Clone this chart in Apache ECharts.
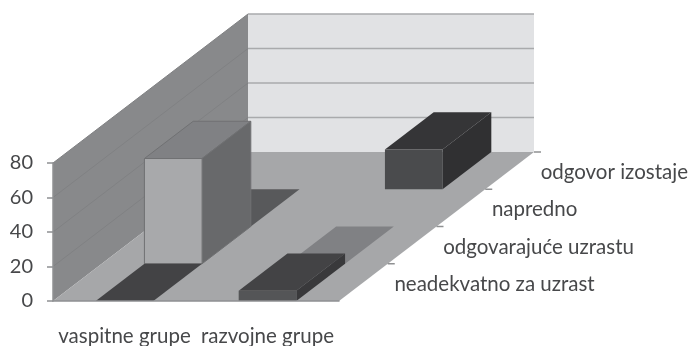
<!DOCTYPE html>
<html>
<head>
<meta charset="utf-8">
<style>
    html, body { margin: 0; padding: 0; background: #fff; }
    #chart { width: 689px; height: 346px; }
</style>
<script src="https://cdn.jsdelivr.net/npm/echarts@6/dist/echarts.min.js"></script>
</head>
<body>
<div id="chart"></div>
<script>
const categories = ['vaspitne grupe', 'razvojne grupe'];
const depthLabels = ['neadekvatno za uzrast', 'odgovarajuće uzrastu', 'napredno', 'odgovor izostaje'];
const neadekvatno = [0, 6];
const odgovarajuce = [61, 0];
const napredno = [0, null];
const izostaje = [null, 23];
const yTicks = [0, 20, 40, 60, 80];

const depthValues = [neadekvatno, odgovarajuce, napredno, izostaje];
const depthColors = [
    { front: '#545557', top: '#434345', side: '#39393b' },
    { front: '#a8a9ab', top: '#808184', side: '#68696b', edge: '#707173' },
    { front: '#58595b', top: '#58595b', side: '#4a4a4c' },
    { front: '#4a4b4d', top: '#353537', side: '#303032' },
];

// pixel shift for one step back along the depth axis
const stepX = 48.75;
const stepY = 37.25;
const barRatio = 0.403;
const textColor = '#47484a';
const fontFamily = 'Lato, "Open Sans", sans-serif';

function shift(point, depth) {
    return [point[0] + depth * stepX, point[1] - depth * stepY];
}

function polygon(points, fill, stroke) {
    return { type: 'polygon', shape: { points: points }, style: { fill: fill, stroke: stroke || null, lineWidth: 1 } };
}

function line(a, b, color, width) {
    return {
        type: 'line',
        shape: { x1: a[0], y1: a[1], x2: b[0], y2: b[1] },
        style: { stroke: color, lineWidth: width },
    };
}

function renderWalls(params, api) {
    const n = categories.length;
    const band = api.size([1, 0])[0];
    const o = [api.coord([0, 0])[0] - band / 2, api.coord([0, 0])[1]];
    const top = [o[0], api.coord([0, yTicks[yTicks.length - 1]])[1]];
    const right = [o[0] + band * n, o[1]];
    const d = depthLabels.length;
    return {
        type: 'group',
        children: [
            polygon([shift(top, d), shift([right[0], top[1]], d), shift(right, d), shift(o, d)], '#e1e2e4'),
            polygon([o, top, shift(top, d), shift(o, d)], '#88898b'),
            polygon([o, right, shift(right, d), shift(o, d)], '#a6a7a9'),
        ],
    };
}

function renderGridLine(params, api) {
    const v = api.value(0);
    const band = api.size([1, 0])[0];
    const left = [api.coord([0, v])[0] - band / 2, api.coord([0, v])[1]];
    const right = [left[0] + band * categories.length, left[1]];
    const d = depthLabels.length;
    return {
        type: 'group',
        children: [
            line(left, shift(left, d), '#808183', 1),
            line(shift(left, d), shift(right, d), '#a9aaac', 1.5),
        ],
    };
}

function makeBarRender(depth) {
    return function(params, api) {
        const value = api.value(1);
        if (value === null || isNaN(value)) return;
        const c = depthColors[depth];
        const center = api.coord([api.value(0), 0]);
        const w = api.size([1, 0])[0] * barRatio;
        const h = center[1] - api.coord([api.value(0), value])[1];
        const fl = shift([center[0] - w / 2, center[1]], depth);
        const fr = [fl[0] + w, fl[1]];
        const tl = [fl[0], fl[1] - h];
        const tr = [fr[0], fr[1] - h];
        const children = [];
        if (h > 0) {
            children.push(polygon([tl, tr, shift(tr, 1), shift(tl, 1)], c.top, c.edge));
            children.push(polygon([fr, tr, shift(tr, 1), shift(fr, 1)], c.side, c.edge));
            children.push(polygon([fl, fr, tr, tl], c.front, c.edge));
        } else {
            children.push(polygon([tl, tr, shift(tr, 1), shift(tl, 1)], c.top));
        }
        return { type: 'group', children: children };
    };
}

function renderDepthLabel(params, api) {
    const k = api.value(0);
    const band = api.size([1, 0])[0];
    const edge = [
        api.coord([0, 0])[0] - band / 2 + band * categories.length,
        api.coord([0, 0])[1],
    ];
    const tick = shift(edge, k + 1);
    const mid = shift(edge, k + 0.5);
    return {
        type: 'group',
        children: [
            line(tick, [tick[0] + 7, tick[1]], '#8f9092', 1.5),
            {
                type: 'text',
                x: mid[0] + 31,
                y: mid[1] + 2,
                style: {
                    text: depthLabels[k],
                    fill: textColor,
                    font: '20.5px ' + fontFamily,
                    textAlign: 'left',
                    textVerticalAlign: 'middle',
                },
            },
        ],
    };
}

// back rows first so nearer bars paint over them
const barSeries = depthLabels.map((name, depth) => ({
    name: name,
    type: 'custom',
    renderItem: makeBarRender(depth),
    data: depthValues[depth].map((v, i) => [i, v]),
    encode: { x: 0, y: 1 },
    z: 10 - depth,
    silent: true,
}));

const chart = echarts.init(document.getElementById('chart'), null, { renderer: 'canvas' });
chart.setOption({
    animation: false,
    backgroundColor: '#fff',
    grid: { left: 53, right: 350, top: 163, bottom: 45, outerBoundsMode: 'none' },
    xAxis: {
        type: 'category',
        data: categories,
        axisLine: { lineStyle: { color: '#8f9092', width: 1.5 } },
        axisTick: { length: 5, lineStyle: { color: '#8f9092', width: 1.5 } },
        axisLabel: { color: textColor, fontFamily: fontFamily, fontSize: 20.5, margin: 25, interval: 0 },
        z: 20,
    },
    yAxis: {
        type: 'value',
        min: 0,
        max: 80,
        interval: 20,
        axisLine: { show: true, lineStyle: { color: '#8f9092', width: 1.5 } },
        axisTick: { show: true, length: 6, lineStyle: { color: '#8f9092', width: 1.5 } },
        axisLabel: { color: textColor, fontFamily: fontFamily, fontSize: 20, margin: 20 },
        splitLine: { show: false },
        z: 20,
    },
    series: [
        { type: 'custom', renderItem: renderWalls, data: [[0, 0]], encode: { x: 0, y: 1 }, z: 1, silent: true },
        {
            type: 'custom',
            renderItem: renderGridLine,
            data: yTicks.slice(1).map((v) => [v]),
            coordinateSystem: 'cartesian2d',
            encode: { y: 0 },
            z: 2,
            silent: true,
        },
        ...barSeries,
        {
            type: 'custom',
            renderItem: renderDepthLabel,
            data: depthLabels.map((name, k) => [k]),
            encode: { y: 0 },
            z: 3,
            silent: true,
        },
    ],
});
</script>
</body>
</html>
